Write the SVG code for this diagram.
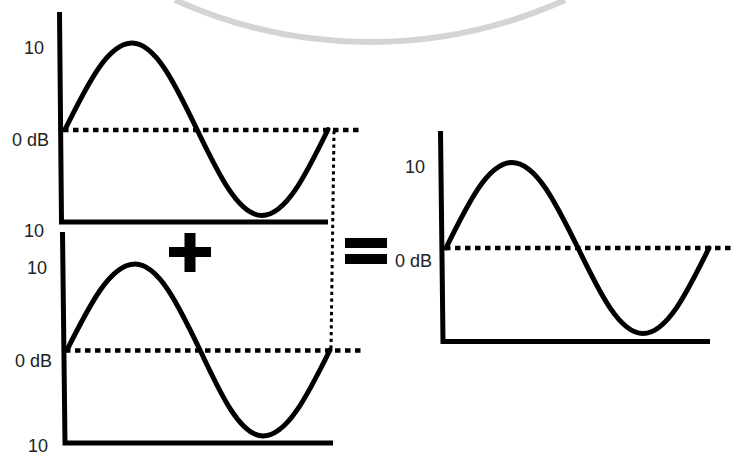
<svg xmlns="http://www.w3.org/2000/svg" width="735" height="457" viewBox="0 0 735 457">
<style>
.ax{stroke:#000;stroke-width:5;fill:none}
.wave{stroke:#000;stroke-width:5;fill:none;stroke-linecap:round}
.zero{stroke:#000;stroke-width:4.5;stroke-dasharray:5.5 4.5;fill:none}
.guide{stroke:#000;stroke-width:3;stroke-dasharray:3.3 3.4;fill:none}
.lbl{font-family:"Liberation Sans","Open Sans",sans-serif;font-size:18px;fill:#222}
.wm{stroke:#d4d4d4;stroke-width:6;fill:none}
</style>
<rect width="735" height="457" fill="#fff"/>
<path class="wm" d="M175 0 A474 474 0 0 0 565 0"/>
<g id="chart-top">
  <path class="ax" d="M59.5 12 L61.5 222 L328 222"/>
  <text class="lbl" x="24" y="54">10</text>
  <text class="lbl" x="12" y="146">0 dB</text>
  <text class="lbl" x="24" y="237">10</text>
  <path class="wave" d="M65 129.5 C87.4 84.3 107.9 43 132 43 C155.4 43 175.3 84.3 197 129.5 C218.7 174.7 238.6 215.5 262 215.5 C285.8 215.5 305.9 174.7 328 129.5"/>
</g>
<g id="chart-bottom">
  <path class="ax" d="M62.5 232 L65 443 L333 443"/>
  <text class="lbl" x="27" y="274">10</text>
  <text class="lbl" x="15" y="367">0 dB</text>
  <text class="lbl" x="28" y="452">10</text>
  <path class="wave" d="M67 350 C89.7 304.8 110.5 264 135 264 C158.4 264 178.3 304.8 200 350 C221.1 395.2 240.3 436 263 436 C287.1 436 307.6 395.2 330 350"/>
</g>
<g id="chart-result">
  <path class="ax" d="M440.5 131 L443 341.5 L710 341.5"/>
  <text class="lbl" x="405" y="173">10</text>
  <text class="lbl" x="395" y="267">0 dB</text>
  <path class="wave" d="M446 248 C468.1 203.1 488.2 162.5 512 162.5 C535.8 162.5 555.9 203.1 578 248 C599.7 292.9 619.6 333.5 643 333.5 C666.8 333.5 686.9 292.9 709 248"/>
</g>
<g id="plus">
  <rect x="169" y="247" width="42" height="10" fill="#000"/>
  <rect x="184.5" y="233" width="11" height="39" fill="#000"/>
</g>
<g id="equals">
  <rect x="345" y="238" width="42" height="10" fill="#000"/>
  <rect x="345" y="254" width="42" height="10" fill="#000"/>
</g>
<g id="connectors">
  <path class="zero" d="M63 130 L362 130"/>
  <path class="zero" d="M65 350.5 L364 350.5"/>
  <path class="zero" d="M445 248 L735 248"/>
  <path class="guide" d="M334 131 L331 349"/>
</g>
</svg>
